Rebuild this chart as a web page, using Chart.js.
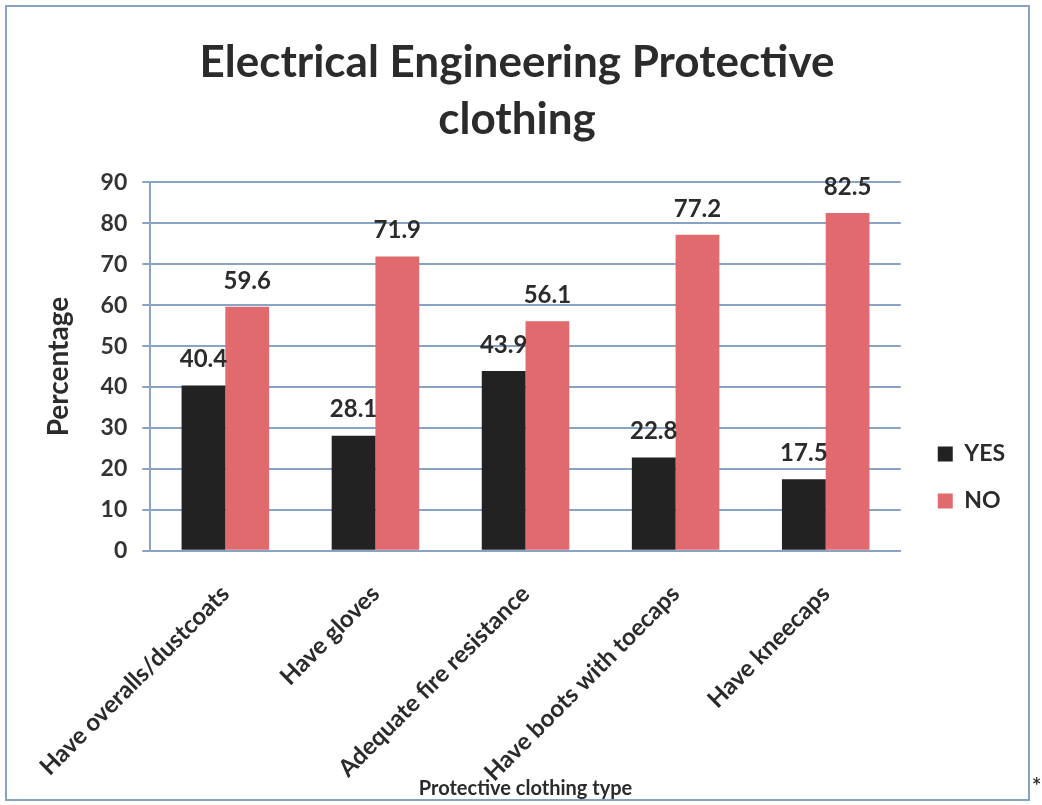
<!DOCTYPE html>
<html>
<head>
<meta charset="utf-8">
<script src="https://cdn.jsdelivr.net/npm/chart.js@4"></script>
<style>
  html, body { margin: 0; padding: 0; background: #ffffff; }
  #wrap { position: relative; width: 1042px; height: 805px; }
  #frame { position: absolute; left: 5px; top: 5px; width: 1025px; height: 796px; border: 2px solid #86a2c4; box-sizing: border-box; }
  #star { position: absolute; left: 1032px; top: 772px; font: bold 22px Lato, sans-serif; color: #333; }
  canvas { position: absolute; left: 0; top: 0; }
</style>
</head>
<body>
<div id="wrap">
  <div id="frame"></div>
  <canvas id="c" width="1042" height="805"></canvas>
  <div id="star">*</div>
</div>
<script>
const categories = ["Have overalls/dustcoats", "Have gloves", "Adequate fire resistance", "Have boots with toecaps", "Have kneecaps"];
const yesValues = [40.4, 28.1, 43.9, 22.8, 17.5];
const noValues = [59.6, 71.9, 56.1, 77.2, 82.5];
const yTicks = [0, 10, 20, 30, 40, 50, 60, 70, 80, 90];

const FONT = "Lato, 'Open Sans', sans-serif";
const TEXT = "#2b2b2b";
const gridColor = "#88a3c4";

const valueLabels = {
  id: 'valueLabels',
  afterDatasetsDraw(chart) {
    const ctx = chart.ctx;
    ctx.save();
    ctx.font = "bold 24px " + FONT;
    ctx.fillStyle = TEXT;
    ctx.textAlign = "center";
    ctx.textBaseline = "middle";
    chart.data.datasets.forEach((ds, i) => {
      const meta = chart.getDatasetMeta(i);
      meta.data.forEach((bar, j) => {
        ctx.fillText(String(ds.data[j]), bar.x, bar.y - 26);
      });
    });
    ctx.restore();
  }
};

// shift the legend block slightly right/down inside its layout slot
const legendNudge = {
  id: 'legendNudge',
  afterLayout(chart, args, opts) {
    const lg = chart.legend;
    if (!lg) return;
    lg.left += opts.dx; lg.right += opts.dx;
    lg.top += opts.dy; lg.bottom += opts.dy;
  }
};

new Chart(document.getElementById('c'), {
  type: 'bar',
  data: {
    labels: categories,
    datasets: [
      { label: 'YES', data: yesValues, backgroundColor: '#222222', borderWidth: 0 },
      { label: 'NO', data: noValues, backgroundColor: '#e06a6e', borderWidth: 0 }
    ]
  },
  options: {
    responsive: false,
    animation: false,
    devicePixelRatio: 1,
    datasets: { bar: { barPercentage: 1.0, categoryPercentage: 0.583 } },
    layout: { padding: { left: 32, right: 40, top: 34, bottom: 4 } },
    plugins: {
      title: {
        display: true,
        text: ['Electrical Engineering Protective', 'clothing'],
        font: { family: FONT, size: 44, weight: 'bold', lineHeight: 1.3 },
        color: TEXT,
        padding: { top: 0, bottom: 34 }
      },
      legend: {
        display: true,
        position: 'right',
        labels: {
          font: { family: FONT, size: 23, weight: 'bold' },
          color: TEXT,
          boxWidth: 15,
          boxHeight: 15,
          padding: 24
        }
      },
      legendNudge: { dx: 13, dy: 60 },
      tooltip: { enabled: false }
    },
    scales: {
      x: {
        afterFit(axis) { axis.paddingLeft = Math.max(axis.paddingLeft - 10, 0); },
        grid: { display: false, drawTicks: false },
        border: { display: true, color: gridColor, width: 2 },
        ticks: {
          font: { family: FONT, size: 24, weight: 'bold' },
          color: TEXT,
          minRotation: 45,
          maxRotation: 45,
          padding: 29,
          autoSkip: false
        },
        title: {
          display: true,
          text: 'Protective clothing type',
          font: { family: FONT, size: 20, weight: 'bold' },
          color: TEXT,
          padding: { top: -39, bottom: 0 }
        }
      },
      y: {
        min: 0,
        max: 90,
        afterBuildTicks(axis) { axis.ticks = yTicks.map(v => ({ value: v })); },
        grid: { color: gridColor, lineWidth: 2, tickLength: 8 },
        border: { display: true, color: gridColor, width: 2 },
        ticks: {
          font: { family: FONT, size: 23, weight: 'bold' },
          color: '#333333',
          padding: 15
        },
        title: {
          display: true,
          text: 'Percentage',
          font: { family: FONT, size: 28, weight: 'bold' },
          color: TEXT,
          padding: { top: 10, bottom: 10 }
        }
      }
    }
  },
  plugins: [valueLabels, legendNudge]
});
</script>
</body>
</html>
